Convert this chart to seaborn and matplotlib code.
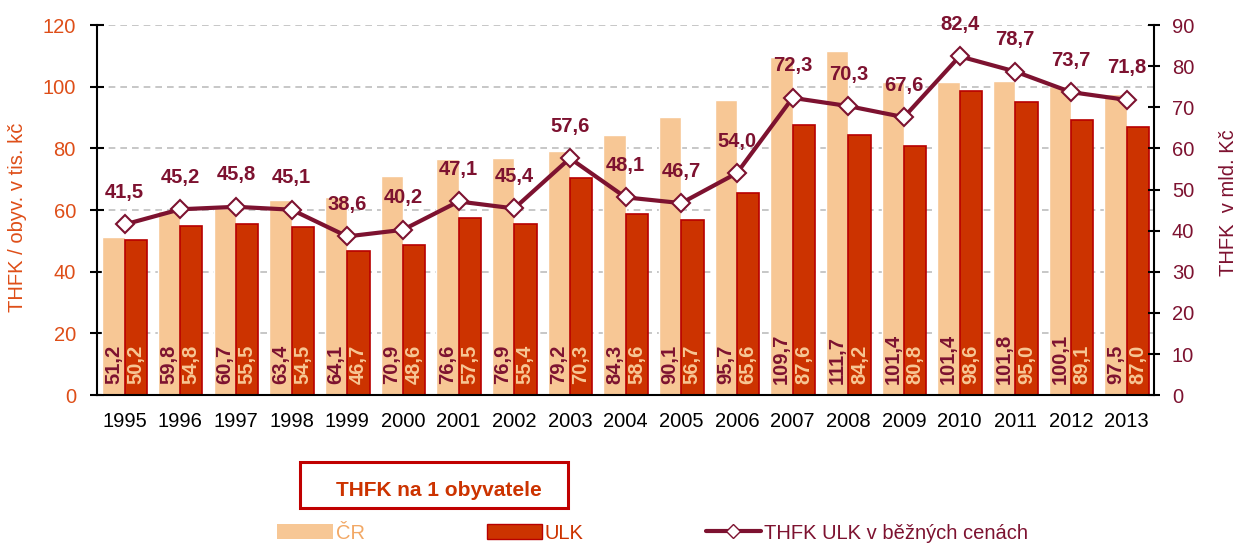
import matplotlib
matplotlib.use("Agg")
import pandas as pd
import matplotlib.pyplot as plt
import seaborn as sns
from matplotlib.lines import Line2D
from matplotlib.patches import Patch, Rectangle

years = ["1995", "1996", "1997", "1998", "1999", "2000", "2001", "2002", "2003", "2004",
         "2005", "2006", "2007", "2008", "2009", "2010", "2011", "2012", "2013"]
cr = [51.2, 59.8, 60.7, 63.4, 64.1, 70.9, 76.6, 76.9, 79.2, 84.3,
      90.1, 95.7, 109.7, 111.7, 101.4, 101.4, 101.8, 100.1, 97.5]
ulk = [50.2, 54.8, 55.5, 54.5, 46.7, 48.6, 57.5, 55.4, 70.3, 58.6,
       56.7, 65.6, 87.6, 84.2, 80.8, 98.6, 95.0, 89.1, 87.0]
thfk_ulk = [41.5, 45.2, 45.8, 45.1, 38.6, 40.2, 47.1, 45.4, 57.6, 48.1,
            46.7, 54.0, 72.3, 70.3, 67.6, 82.4, 78.7, 73.7, 71.8]
series = ["ČR", "ULK"]
legend_labels = ["ČR", "ULK", "THFK ULK v běžných cenách"]

C_CR = "#F7C795"
C_ULK = "#CC3300"
C_ULK_EDGE = "#B80000"
C_LINE = "#7D1230"
C_LEFT = "#DE4E18"
C_CR_TEXT = "#F2A865"

sns.set_style("white")
plt.rcParams["font.family"] = ["Liberation Sans", "DejaVu Sans"]

df = pd.DataFrame({
    "rok": years * 2,
    "serie": [series[0]] * len(years) + [series[1]] * len(years),
    "hodnota": cr + ulk,
})

fig = plt.figure(figsize=(12.4, 5.45), dpi=100)
ax = fig.add_axes([0.078, 0.275, 0.853, 0.679])

sns.barplot(data=df, x="rok", y="hodnota", hue="serie", hue_order=series,
            palette={"ČR": C_CR, "ULK": C_ULK}, width=0.8, gap=0,
            saturation=1, legend=False, ax=ax)

# edge on ULK bars, value labels inside bars
for bar in ax.containers[1]:
    bar.set_edgecolor(C_ULK_EDGE)
    bar.set_linewidth(1.2)
for cont, vals, col in [(ax.containers[0], cr, C_LINE), (ax.containers[1], ulk, C_CR)]:
    for bar, v in zip(cont, vals):
        ax.text(bar.get_x() + bar.get_width() / 2, 3.5, f"{v:.1f}".replace(".", ","),
                rotation=90, ha="center", va="bottom", fontsize=14.5,
                fontweight="bold", color=col)

ax.set_ylim(0, 120)
ax.set_yticks(range(0, 121, 20))
ax.set_axisbelow(True)
ax.yaxis.grid(True, linestyle=(0, (4, 3)), color="#BDBDBD", linewidth=1.2)
ax.set_xlabel("")
ax.set_ylabel("THFK / obyv. v tis. kč", color=C_LEFT, fontsize=14.5)
ax.yaxis.set_label_coords(-0.066, 0.48)
ax.tick_params(axis="y", colors="black", labelcolor=C_LEFT, labelsize=14.5,
               direction="inout", length=10, width=1.5, pad=10)

ax2 = ax.twinx()
sns.pointplot(x=years, y=thfk_ulk, ax=ax2, color=C_LINE, markers="D",
              linewidth=3, markersize=9.5, markerfacecolor="white",
              markeredgecolor=C_LINE, markeredgewidth=1.5)
for i, v in enumerate(thfk_ulk):
    ax2.annotate(f"{v:.1f}".replace(".", ","), (i, v), xytext=(0, 23),
                 textcoords="offset points", ha="center", va="center",
                 fontsize=14.5, fontweight="bold", color=C_LINE)
ax2.set_ylim(0, 90)
ax2.set_yticks(range(0, 91, 10))
ax2.set_ylabel("THFK  v mld. Kč", color=C_LINE, fontsize=14.5)
ax2.yaxis.set_label_coords(1.061, 0.52)
ax2.tick_params(axis="y", colors="black", labelcolor=C_LINE, labelsize=14.5,
                direction="inout", length=9, width=1.5, pad=8)
ax2.grid(False)

ax.set_xlim(-0.5, len(years) - 0.5)
ax.set_xticks(range(len(years)))
ax.set_xticklabels(years)
ax.set_xticks([i - 0.5 for i in range(len(years) + 1)], minor=True)
ax.tick_params(axis="x", which="major", length=0, labelsize=14.5, pad=12, labelcolor="black")
ax.tick_params(axis="x", which="minor", direction="inout", length=9, width=1.5, color="black")

for s in ["left", "bottom"]:
    ax.spines[s].set_color("black")
    ax.spines[s].set_linewidth(1.5)
ax.spines["top"].set_visible(False)
ax.spines["right"].set_visible(False)
for s in ["left", "bottom", "top"]:
    ax2.spines[s].set_visible(False)
ax2.spines["right"].set_color("black")
ax2.spines["right"].set_linewidth(1.5)

# boxed caption
fig.patches.append(Rectangle((0.242, 0.068), 0.216, 0.084, transform=fig.transFigure,
                             fill=False, edgecolor="#C00000", linewidth=2.2))
fig.text(0.354, 0.1, "THFK na 1 obyvatele", ha="center", va="center",
         fontsize=15, fontweight="bold", color=C_ULK)

handles = [
    Patch(facecolor=C_CR, edgecolor="none"),
    Patch(facecolor=C_ULK, edgecolor=C_ULK_EDGE),
    Line2D([], [], color=C_LINE, linewidth=3, marker="D", markersize=7,
           markerfacecolor="white", markeredgecolor=C_LINE),
]
leg = fig.legend(handles, legend_labels, loc="center left", bbox_to_anchor=(0.209, 0.022),
                 ncol=3, frameon=False, handlelength=2.75, handleheight=0.8,
                 handletextpad=0.15, columnspacing=6.05, fontsize=14.5)
for txt, col in zip(leg.get_texts(), [C_CR_TEXT, C_ULK, C_LINE]):
    txt.set_color(col)

fig.savefig("out.png", dpi=100)
